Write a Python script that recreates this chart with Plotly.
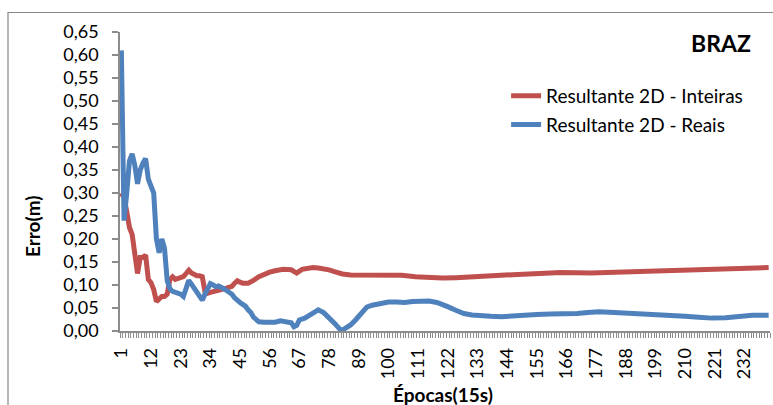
import plotly.graph_objects as go

# Epoch (15 s) at which each error value was sampled
reais_epochs = [1, 2, 3, 4, 5, 6, 7, 8, 9, 10, 11, 12, 13, 14, 15, 16, 17, 18, 19, 20,
                21, 22, 23, 24, 25, 26, 27, 28, 29, 30, 31, 32, 33, 34, 35, 36, 37, 38, 39, 40,
                41, 42, 43, 44, 45, 46, 47, 48, 49, 50, 51, 52, 54, 56, 58, 60, 62, 64, 65, 66,
                67, 69, 71, 73, 74, 76, 78, 80, 82, 83, 84, 86, 88, 90, 92, 94, 96, 98, 100, 103,
                106, 109, 112, 115, 118, 120, 122, 125, 128, 131, 134, 138, 142, 146, 150, 155,
                160, 165, 170, 174, 178, 182, 186, 190, 195, 200, 205, 210, 215, 220, 225, 230,
                235, 241]
reais_erro = [0.610, 0.240, 0.300, 0.370, 0.385, 0.360, 0.320, 0.350, 0.365, 0.375,
              0.330, 0.312, 0.300, 0.200, 0.170, 0.200, 0.180, 0.110, 0.092, 0.086,
              0.084, 0.082, 0.080, 0.075, 0.090, 0.110, 0.102, 0.092, 0.083, 0.074,
              0.067, 0.080, 0.092, 0.103, 0.100, 0.096, 0.098, 0.096, 0.092, 0.088,
              0.085, 0.080, 0.072, 0.066, 0.062, 0.058, 0.054, 0.046, 0.040, 0.030,
              0.024, 0.020, 0.019, 0.018, 0.019, 0.022, 0.020, 0.018, 0.009, 0.012,
              0.024, 0.028, 0.035, 0.044, 0.046, 0.040, 0.030, 0.017, 0.004, 0.002,
              0.006, 0.013, 0.025, 0.038, 0.052, 0.056, 0.058, 0.060, 0.063, 0.063,
              0.062, 0.064, 0.064, 0.065, 0.062, 0.058, 0.053, 0.045, 0.038, 0.035,
              0.033, 0.032, 0.031, 0.033, 0.035, 0.036, 0.037, 0.037, 0.038, 0.040,
              0.042, 0.041, 0.040, 0.039, 0.037, 0.035, 0.034, 0.032, 0.030, 0.028,
              0.029, 0.032, 0.034, 0.034]

inteiras_epochs = [1, 2, 3, 4, 5, 6, 7, 8, 9, 10, 11, 12, 13, 14, 15, 16, 17, 18, 19, 20,
                   21, 22, 23, 24, 25, 26, 27, 28, 29, 30, 31, 32, 33, 34, 36, 38, 40, 42, 43, 44,
                   45, 46, 48, 49, 50, 52, 54, 56, 58, 61, 64, 66, 68, 70, 72, 74, 76, 78, 80, 83,
                   86, 90, 95, 100, 105, 110, 115, 120, 125, 130, 135, 140, 148, 156, 164, 175,
                   185, 195, 205, 215, 225, 235, 241]
inteiras_erro = [0.300, 0.290, 0.260, 0.225, 0.210, 0.170, 0.125, 0.160, 0.160, 0.165,
                 0.112, 0.105, 0.090, 0.064, 0.070, 0.075, 0.075, 0.080, 0.112, 0.118,
                 0.112, 0.115, 0.118, 0.118, 0.125, 0.132, 0.126, 0.122, 0.120, 0.120,
                 0.118, 0.086, 0.082, 0.084, 0.086, 0.090, 0.093, 0.097, 0.104, 0.109,
                 0.106, 0.104, 0.104, 0.106, 0.110, 0.118, 0.124, 0.128, 0.131, 0.134,
                 0.133, 0.126, 0.134, 0.136, 0.138, 0.137, 0.136, 0.133, 0.129, 0.124,
                 0.122, 0.122, 0.123, 0.123, 0.121, 0.118, 0.116, 0.115, 0.116, 0.118,
                 0.120, 0.122, 0.123, 0.125, 0.127, 0.126, 0.128, 0.130, 0.133, 0.135,
                 0.136, 0.137, 0.138]

n_epochs = 241
x_tick_labels = [str(v) for v in range(1, n_epochs + 1, 11)]
y_tick_values = [i * 0.05 for i in range(14)]
y_tick_labels = [f"{v:.2f}".replace(".", ",") for v in y_tick_values]

RED = "#C0504D"
BLUE = "#4F81BD"
AXIS_GREY = "#8C8C8C"
FONT = "Lato, Carlito, Calibri, sans-serif"

fig = go.Figure()
fig.add_trace(go.Scatter(
    x=inteiras_epochs, y=inteiras_erro, mode="lines",
    name="Resultante 2D - Inteiras", legendgroup="a",
    line=dict(color=RED, width=5),
))
fig.add_trace(go.Scatter(
    x=reais_epochs, y=reais_erro, mode="lines",
    name="Resultante 2D - Reais", legendgroup="b",
    line=dict(color=BLUE, width=5),
))

fig.update_layout(
    width=773, height=405,
    margin=dict(l=120, r=3, t=32, b=74),
    paper_bgcolor="white", plot_bgcolor="white",
    font=dict(family=FONT, size=18, color="black"),
    showlegend=True,
    legend=dict(
        x=0.594, y=0.85, xanchor="left", yanchor="top",
        bgcolor="rgba(0,0,0,0)", font=dict(size=19),
        tracegroupgap=1,
    ),
    xaxis=dict(
        range=[0.5, n_epochs + 0.5],
        tickmode="array",
        tickvals=[int(t) for t in x_tick_labels],
        ticktext=x_tick_labels,
        tickangle=-90,
        ticks="", ticklabelstandoff=8,
        showgrid=False, zeroline=False,
        showline=True, linecolor=AXIS_GREY, linewidth=1.5,
        minor=dict(dtick=1, tick0=0.5, ticks="outside", ticklen=5,
                   tickcolor=AXIS_GREY, tickwidth=1, showgrid=False),
        tickfont=dict(size=18),
    ),
    yaxis=dict(
        range=[0, 0.65],
        tickmode="array",
        tickvals=y_tick_values,
        ticktext=y_tick_labels,
        ticks="outside", ticklen=6, tickcolor=AXIS_GREY, tickwidth=1.5,
        ticklabelstandoff=10,
        showgrid=False, zeroline=False,
        showline=True, linecolor=AXIS_GREY, linewidth=1.5,
        tickfont=dict(size=18),
    ),
    shapes=[dict(
        type="rect", xref="paper", yref="paper",
        x0=(8 - 120) / 650, x1=1.2, y0=-0.5, y1=(331 - 12.5) / 299,
        line=dict(color="#868686", width=1.2), fillcolor="rgba(0,0,0,0)",
        layer="below",
    )],
    annotations=[
        dict(text="<b>BRAZ</b>", xref="paper", yref="paper",
             x=(721 - 120) / 650, y=(331 - 43) / 299, showarrow=False,
             font=dict(size=23), xanchor="center", yanchor="middle"),
        dict(text="<b>Épocas(15s)</b>", xref="paper", yref="paper",
             x=(443 - 120) / 650, y=(331 - 394) / 299, showarrow=False,
             font=dict(size=19), xanchor="center", yanchor="middle"),
        dict(text="<b>Erro(m)</b>", xref="paper", yref="paper",
             x=(32 - 120) / 650, y=(331 - 227) / 299, showarrow=False,
             textangle=-90, font=dict(size=19),
             xanchor="center", yanchor="middle"),
    ],
)

fig.write_html("out.html")
